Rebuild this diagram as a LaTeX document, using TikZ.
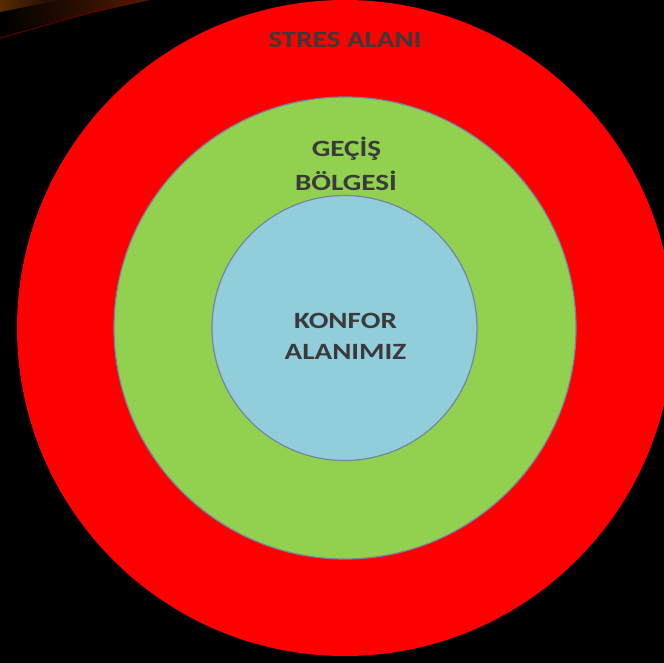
\documentclass[tikz,border=0pt]{standalone}
\usepackage{fontspec}
\setmainfont{Carlito}
\usetikzlibrary{fadings}
\definecolor{stressred}{HTML}{FF0000}
\definecolor{transgreen}{HTML}{92D050}
\definecolor{comfortblue}{HTML}{92CDDC}
\definecolor{ringline}{HTML}{7585A0}
\definecolor{labelgray}{HTML}{3A3A3A}
% wide bold lettering for the zone names
\newcommand{\zonetext}[1]{\scalebox{1.25}[1]{#1}}
\tikzset{
  ring/.style={circle, draw=ringline, line width=1.2pt, inner sep=0pt, minimum size=#1},
  zonelabel/.style={text=labelgray, inner sep=0pt, anchor=base,
    font=\bfseries\fontsize{23.3}{28}\selectfont}
}
\begin{document}
\begin{tikzpicture}[x=1pt, y=-1pt]
  % black page
  \fill[black] (0,0) rectangle (664,663);
  \useasboundingbox (0,0) rectangle (664,663);
  % warm streak in the upper-left corner
  \begin{scope}
    \clip (0,0) rectangle (664,663);
    \fill[orange!70!red!70!black, opacity=0.45, path fading=west] (0,0) -- (150,0) -- (0,34) -- cycle;
    \fill[orange!70!black, opacity=0.5, path fading=east] (0,0) -- (60,0) -- (0,12) -- cycle;
    \draw[red!45!black, opacity=0.6, line width=1.5pt] (0,38) -- (135,0);
  \end{scope}
  % nested zones
  \node[ring=656pt, draw=none, fill=stressred] (stress) at (345,328) {};
  \node[ring=462pt, fill=transgreen] (transition) at (345,328) {};
  \node[ring=265pt, fill=comfortblue] (comfort) at (344.5,328) {};
  % labels, one node per line
  \node[zonelabel] (stresslbl) at (345,47.5) {\zonetext{STRES ALANI}};
  \node[zonelabel] (translblA) at (346.5,157) {\zonetext{GEÇİŞ}};
  \node[zonelabel] (translblB) at (346,190.5) {\zonetext{BÖLGESİ}};
  \node[zonelabel] (comfortlblA) at (345.5,328.5) {\zonetext{KONFOR}};
  \node[zonelabel] (comfortlblB) at (345.5,359.5) {\zonetext{ALANIMIZ}};
\end{tikzpicture}
\end{document}
